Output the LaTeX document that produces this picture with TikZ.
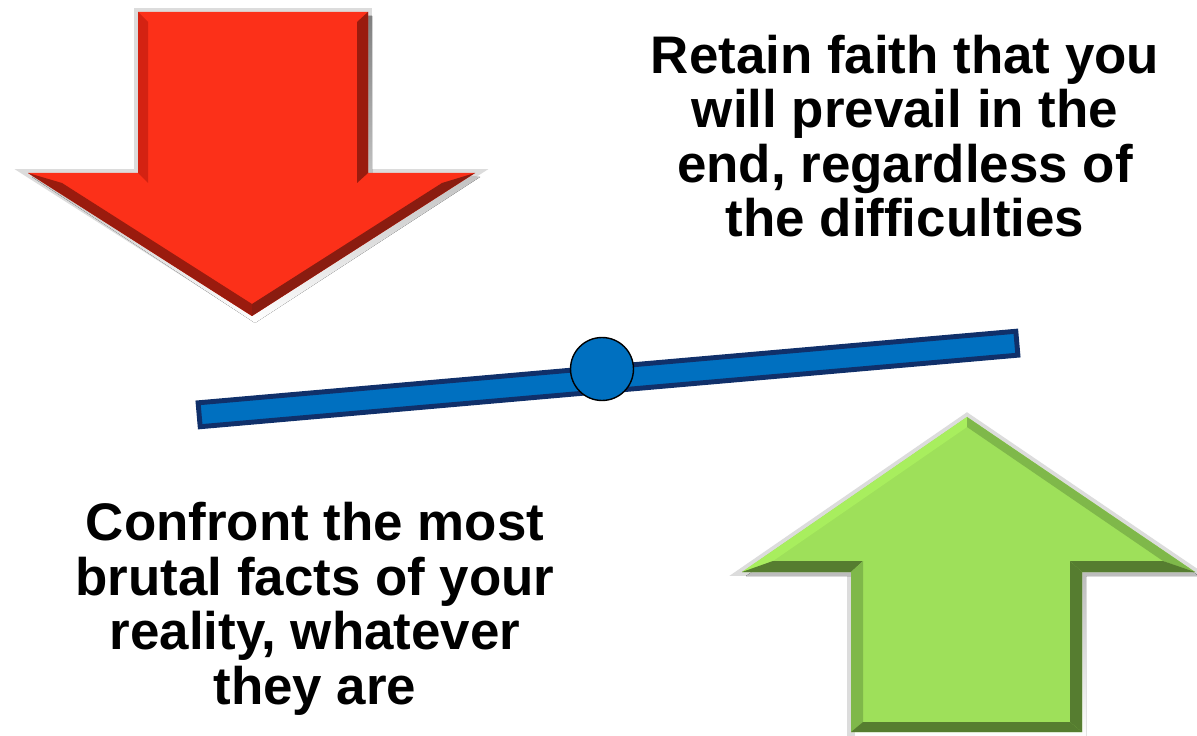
\documentclass[tikz,border=0pt]{standalone}
\usepackage{fontspec}
\setmainfont{Liberation Sans}
\usepackage{xcolor}
\usepackage{tikz}

\definecolor{arrowred}{HTML}{FC3019}
\definecolor{redleft}{HTML}{D42212}
\definecolor{redright}{HTML}{9A1B0E}
\definecolor{redlow}{HTML}{8A1C10}
\definecolor{arrowgreen}{HTML}{9EE05A}
\definecolor{greenlight}{HTML}{A8EE5E}
\definecolor{greenmid}{HTML}{7FB84A}
\definecolor{greendark}{HTML}{567D30}
\definecolor{beamblue}{HTML}{0070C0}
\definecolor{beamedge}{HTML}{10306A}
\definecolor{halo}{HTML}{DCDCDC}
\definecolor{shade}{HTML}{A0A0A0}

\begin{document}
\begin{tikzpicture}[x=0.02cm, y=-0.02cm,
    slogan/.style={font=\bfseries\fontsize{30.1}{31}\selectfont, align=center, inner sep=0pt},
    rim/.style={draw=halo, fill=halo, line width=4.5pt, line join=miter}]
  \useasboundingbox (0,0) rectangle (1197,736);

  % red arrow: halo and shadow
  \path[rim] (138,12) -- (368,12) -- (368,173) -- (475,173) -- (252,316) -- (28,173) -- (138,173) -- cycle;
  \fill[shade] (142,16) -- (372,16) -- (372,177) -- (480,177) -- (255,323) -- (32,177) -- (142,177) -- cycle;
  % red arrow body
  \fill[arrowred] (138,12) -- (368,12) -- (368,173) -- (475,173) -- (252,316) -- (28,173) -- (138,173) -- cycle;
  % red bevels
  \fill[redleft] (138,12) -- (148,22) -- (148,183) -- (138,173) -- cycle;
  \fill[redright] (368,12) -- (357,22) -- (357,183) -- (368,173) -- cycle;
  \fill[redright] (28,173) -- (62,183) -- (252,304) -- (252,316) -- cycle;
  \fill[redlow] (475,173) -- (442,183) -- (252,304) -- (252,316) -- cycle;

  % green arrow: halo and shadow
  \path[rim] (967,417) -- (1195,572) -- (1082,572) -- (1082,732) -- (851,732) -- (851,572) -- (742,572) -- cycle;
  \fill[shade] (970,421) -- (1199,576) -- (1086,576) -- (1086,740) -- (855,740) -- (855,576) -- (746,576) -- cycle;
  % green arrow body
  \fill[arrowgreen] (967,417) -- (1195,572) -- (1082,572) -- (1082,732) -- (851,732) -- (851,572) -- (742,572) -- cycle;
  % green bevels
  \fill[greenlight] (742,572) -- (967,417) -- (967,427) -- (773,561) -- cycle;
  \fill[greenmid] (967,417) -- (1195,572) -- (1163,561) -- (967,427) -- cycle;
  \fill[greendark] (742,572) -- (851,572) -- (863,561) -- (773,561) -- cycle;
  \fill[greenmid] (851,572) -- (863,561) -- (863,722) -- (851,732) -- cycle;
  \fill[greendark] (1070,561) -- (1163,561) -- (1195,572) -- (1082,572) -- cycle;
  \fill[greendark] (1070,561) -- (1082,572) -- (1082,732) -- (1070,722) -- cycle;
  \fill[greendark] (851,732) -- (1082,732) -- (1070,722) -- (863,722) -- cycle;

  % balance beam and pivot
  \node[draw=beamedge, fill=beamblue, line width=2.8pt, minimum width=16.42cm,
        minimum height=0.48cm, inner sep=0pt, rotate=5] (beam) at (608,379) {};
  \node[circle, draw=black, fill=beamblue, line width=0.8pt, minimum size=1.26cm,
        inner sep=0pt] (pivot) at (602,369) {};

  % texts
  \node[slogan] (faith) at (905,136) {Retain faith that you\\will prevail in the\\end, regardless of\\the difficulties};
  \node[slogan] (facts) at (315,609) {Confront the most\\brutal facts of your\\reality, whatever\\they are};
\end{tikzpicture}
\end{document}
